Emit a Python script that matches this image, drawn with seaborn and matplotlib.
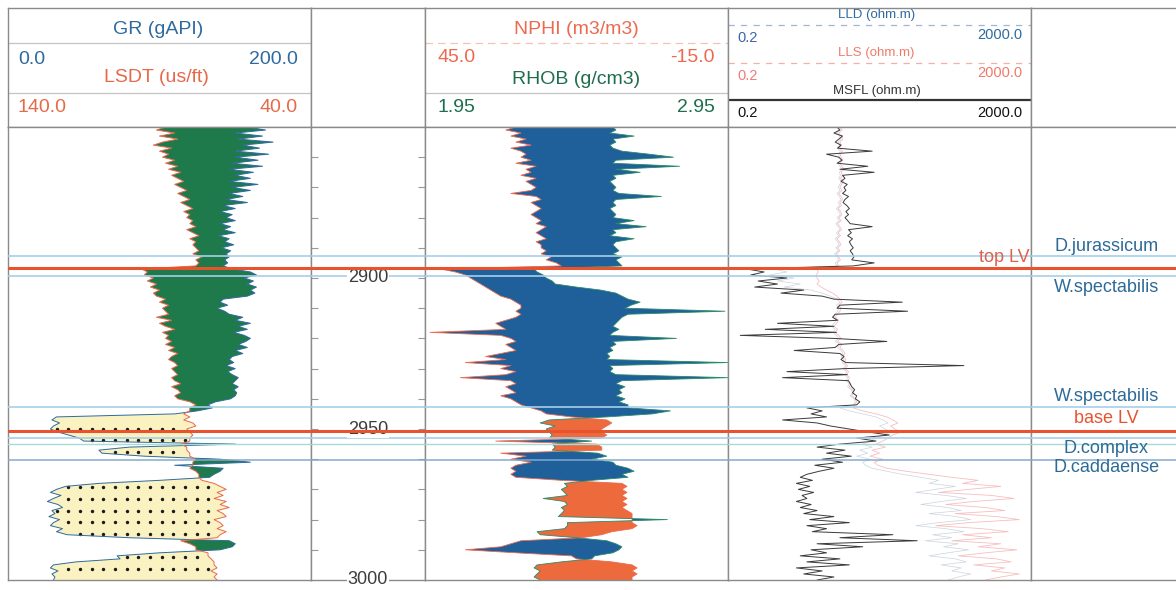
import numpy as np
import matplotlib
matplotlib.use("Agg")
import matplotlib.pyplot as plt
import matplotlib.transforms as mtransforms
import seaborn as sns

TOP_DEPTH, BASE_DEPTH = 2850, 3000

# ---------------- data (1 m samples, 2850 .. 3000 m) ----------------
gr = [
    158, 170, 150, 168, 152, 175, 155, 166, 150, 172,
    150, 165, 148, 168, 146, 162, 150, 160, 146, 165,
    148, 160, 146, 155, 144, 158, 142, 150, 140, 148,
    144, 150, 140, 147, 142, 150, 139, 146, 143, 149,
    141, 147, 144, 146, 143, 145, 142,
    148, 160, 164,
    156, 162, 158, 164, 160, 163, 158,
    142, 140, 145, 138, 143, 146,
    155, 150, 160, 152, 158, 149, 156, 160,
    157, 152, 158, 150, 155, 148,
    146, 149, 144, 150, 145, 148, 152,
    150, 148, 152, 149, 151, 150, 147,
    137, 132,
    135, 125, 110,
    32, 29, 34, 30, 28, 33, 40,
    47, 50,
    150, 80,
    60, 62, 90,
    140, 160, 110,
    142, 140, 136, 133, 100,
    60,
    38, 32, 28, 35, 30, 26, 33, 36, 29, 31, 27, 34, 30, 28, 36, 32, 39,
    80,
    146, 150, 148, 140,
    100, 72, 74, 45,
    30, 28, 33, 29, 31, 30]

lsdt = [
    88, 91, 85, 90, 84, 89, 92, 86, 90, 87,
    89, 85, 88, 84, 87, 83, 86, 84, 82, 85,
    83, 81, 84, 82, 80, 83, 81, 79, 82, 80,
    81, 79, 80, 78, 81, 79, 77, 80, 78, 79,
    78, 77, 79, 76, 78, 77, 78,
    96, 94, 95,
    92, 94, 91, 93, 90, 92, 91,
    88, 90, 87, 89, 88, 87,
    91, 86, 90, 88, 85, 89, 87, 88,
    86, 88, 85, 87, 84, 86,
    87, 85, 84, 86, 85, 84, 86,
    85, 83, 86, 84, 83, 85, 84,
    80, 78,
    80, 80, 82,
    80, 82, 79, 78, 81, 80, 79,
    80, 80,
    83, 81,
    81, 80, 80,
    78, 79, 79,
    80, 78, 77, 77, 76,
    72,
    70, 68, 71, 69, 72, 68, 70, 67, 71, 69, 68, 72, 70, 69, 71, 68, 70,
    71,
    83, 80, 78, 78,
    74, 74, 73, 72,
    72, 71, 73, 71, 72, 71]

nphi = [
    27, 29, 26, 28, 25, 27, 24, 28, 26, 25,
    26, 24, 27, 23, 25, 24, 26, 23, 25, 24,
    23, 24, 28, 23, 22, 24, 23, 22, 23, 24,
    23, 22, 23, 21, 22, 23, 22, 21, 23, 22,
    22, 21, 22, 20, 21, 19, 18,
    42, 39, 37, 36, 35, 34, 33, 32, 31, 30,
    28, 27, 26, 26, 27, 26, 27, 29, 31, 30,
    29, 44, 30, 28, 27, 29, 28, 27, 30, 33,
    29, 37, 28, 30, 27, 29, 38, 28, 27, 29,
    28, 27, 30, 28, 27, 26,
    24, 22, 21, 16, 9, 8, 9, 10, 10, 9,
    10, 31, 11, 10, 10, 30, 25, 28, 24, 27,
    28, 27, 28, 27, 18, 6, 5, 6, 5, 6,
    5, 6, 5, 6, 5, 4, 4, 4, 4, 3,
    4, 8, 10, 14, 26, 28, 30, 37, 27, 16,
    15, 8, 4, 3, 4, 3, 4, 4]

rhob = [
    2.57, 2.58, 2.56, 2.64, 2.57, 2.58, 2.56, 2.57, 2.60, 2.69,
    2.77, 2.58, 2.57, 2.79, 2.58, 2.66, 2.57, 2.58, 2.56, 2.57,
    2.58, 2.57, 2.59, 2.73, 2.58, 2.57, 2.58, 2.56, 2.57, 2.58,
    2.57, 2.64, 2.58, 2.68, 2.57, 2.58, 2.56, 2.64, 2.58, 2.57,
    2.58, 2.59, 2.57, 2.60, 2.58, 2.59, 2.60,
    2.31, 2.32, 2.34, 2.35, 2.37, 2.38, 2.45, 2.53, 2.58, 2.60,
    2.62, 2.66, 2.63, 2.61, 2.94, 2.62, 2.60, 2.59, 2.58, 2.57,
    2.59, 2.57, 2.56, 2.78, 2.57, 2.58, 2.56, 2.57, 2.55, 2.56,
    2.55, 2.95, 2.56, 2.57, 2.56, 2.58, 2.95, 2.60, 2.58, 2.61,
    2.59, 2.60, 2.58, 2.61, 2.59, 2.62,
    2.62, 2.76, 2.70, 2.55, 2.36, 2.33, 2.38, 2.35, 2.36, 2.37,
    2.36, 2.50, 2.37, 2.38, 2.37, 2.52, 2.55, 2.50, 2.57, 2.58,
    2.62, 2.64, 2.60, 2.62, 2.50, 2.41, 2.42, 2.40, 2.41, 2.42,
    2.34, 2.41, 2.42, 2.40, 2.41, 2.40, 2.39, 2.75, 2.42, 2.42,
    2.41, 2.32, 2.33, 2.45, 2.55, 2.58, 2.60, 2.59, 2.57, 2.51,
    2.50, 2.40, 2.32, 2.31, 2.33, 2.32, 2.31, 2.33]

msfl = [
    5.5, 6.0, 5.0, 6.5, 5.8, 5.2, 6.2, 5.6, 16, 4.0,
    5.8, 6.4, 5.5, 14, 6.0, 17, 6.5, 7.0, 6.2, 7.5,
    6.8, 7.2, 6.5, 7.8, 7.0, 6.6, 7.4, 8.0, 7.2, 7.8,
    7.0, 7.6, 8.2, 16, 7.8, 8.5, 7.6, 8.8, 8.0, 8.4,
    9.0, 8.2, 8.8, 9.2, 8.6, 17, 9.0,
    0.35, 0.6, 0.4, 1.2, 0.5, 0.9, 0.45, 2.0, 1.0, 3.5,
    5.0, 40, 6.0, 5.5, 47, 5.2, 4.8, 5.6, 0.9, 5.0,
    0.62, 5.4, 0.29, 5.0, 25, 5.8, 5.2, 1.5, 6.0, 6.8,
    6.2, 7.2, 260, 7.0, 1.2, 7.5, 1.05, 7.8, 8.2, 8.6,
    9.4, 8.8, 10, 9.6, 11, 10,
    2.2, 3.5, 2.5, 4.0, 1.05, 3.0, 4.5, 8.0, 14, 27,
    10, 18, 6.0, 3.0, 7.0, 4.0, 8.5, 3.5, 6.5, 2.8,
    5.0, 3.2, 2.2, 1.8, 2.6, 1.6, 2.4, 1.7, 2.7, 1.9,
    2.2, 1.6, 2.5, 1.8, 3.0, 2.0, 5.0, 2.4, 8.0, 2.2,
    4.0, 2.6, 30, 6.0, 63, 3.0, 12, 2.5, 4.0, 1.8,
    6.0, 2.2, 8.0, 1.6, 3.5, 2.0, 5.0, 3.0]

lls = [
    6.0, 6.4, 5.8, 6.2, 6.6, 6.0, 6.3, 5.9, 6.5, 6.1,
    6.2, 6.6, 6.0, 6.4, 6.8, 6.2, 6.5, 6.1, 6.7, 6.3,
    6.0, 6.4, 5.8, 6.2, 6.5, 6.0, 6.3, 5.7, 6.1, 6.4,
    5.8, 6.2, 5.6, 6.0, 6.3, 5.7, 6.1, 5.5, 5.9, 6.2,
    5.6, 6.0, 5.4, 5.8, 6.1, 5.5, 5.8,
    3.0, 3.1, 2.9, 3.0, 3.2, 3.0, 3.4, 4.0, 4.8, 5.5,
    6.0, 6.4, 5.8, 6.2, 6.0, 5.6, 5.2, 5.8, 5.4, 5.0,
    5.6, 5.2, 5.8, 6.2, 5.6, 6.4, 6.0, 6.6, 7.0, 6.6,
    7.2, 6.8, 7.6, 7.0, 7.8, 7.4, 8.0, 7.6, 8.4, 8.0,
    8.8, 9.2, 8.6, 9.6, 10, 9.4,
    9.0, 12, 18, 25, 30, 35, 28, 32, 38, 30,
    26, 22, 18, 24, 16, 20, 15, 22, 17, 19,
    25, 45, 90, 180, 400, 250, 800, 300, 120, 600,
    1200, 350, 150, 500, 900, 200, 700, 1400, 300, 110,
    450, 1000, 250, 600, 180, 800, 400, 1300, 500, 220,
    700, 1100, 350, 900, 600, 1400, 800, 500]

lld = [
    5.6, 6.0, 5.4, 5.9, 6.2, 5.7, 6.0, 5.5, 6.1, 5.8,
    5.9, 6.2, 5.7, 6.0, 6.4, 5.9, 6.1, 5.8, 6.3, 6.0,
    5.7, 6.0, 5.5, 5.9, 6.2, 5.7, 6.0, 5.4, 5.8, 6.1,
    5.5, 5.9, 5.3, 5.7, 6.0, 5.4, 5.8, 5.2, 5.6, 5.9,
    5.3, 5.7, 5.1, 5.5, 5.8, 5.2, 5.5,
    0.8, 1.2, 0.7, 1.5, 0.9, 1.8, 1.1, 2.5, 3.5, 4.5,
    5.5, 6.0, 5.4, 5.8, 5.6, 5.2, 4.9, 5.4, 5.0, 4.7,
    5.2, 4.9, 5.4, 5.8, 5.2, 6.0, 5.6, 6.2, 6.6, 6.2,
    6.8, 6.4, 7.2, 6.6, 7.4, 7.0, 7.6, 7.2, 8.0, 7.6,
    8.4, 8.8, 8.2, 9.2, 9.6, 9.0,
    6.0, 8.0, 12, 18, 22, 26, 20, 24, 28, 22,
    18, 15, 12, 16, 11, 14, 10, 15, 12, 13,
    16, 25, 40, 70, 120, 90, 200, 110, 60, 150,
    280, 130, 70, 160, 240, 90, 210, 320, 120, 60,
    150, 260, 100, 180, 80, 220, 140, 300, 160, 90,
    200, 280, 130, 240, 180, 320, 220, 160]

# formation markers (depth in m)
marker_depths = [2892.7, 2896.7, 2899.3, 2942.7, 2950.7, 2953.0, 2955.0, 2960.3]
marker_kinds = ["zone", "lv", "zone", "zone", "lv", "zone", "teal", "zone2"]

zone_labels = ["D.jurassicum", "W.spectabilis", "W.spectabilis", "base LV", "D.complex", "D.caddaense"]
zone_label_depths = [2889.7, 2903.0, 2939.4, 2946.4, 2956.6, 2962.9]
top_lv_label, top_lv_depth = "top LV", 2893.2

depth_labels = [2900, 2950, 3000]
minor_depths = list(range(2860, 3000, 10))

# ---------------- styling ----------------
sns.set_theme(style="white")
plt.rcParams['font.family'] = ['Liberation Sans', 'DejaVu Sans']

C_GR = "#2e6a9e"
C_LSDT = "#e8694a"
C_GREEN = "#1e7a4a"
C_SAND = "#fbf2c2"
C_BLUEFILL = "#1f5f9a"
C_ORANGEFILL = "#ec6a3b"
C_RHOB = "#1e6e4e"
C_NPHI = "#ec6a50"
C_ZONE = "#2c6a98"
C_RED = "#e8532e"
C_BORDER = "#8a8a8a"
line_style = {"zone": ("#a6cfe8", 1.2), "lv": (C_RED, 2.2), "teal": ("#a8dad6", 1.0),
              "zone2": ("#84a9d0", 1.1)}

W, H = 1176, 590
fig = plt.figure(figsize=(W / 100, H / 100), dpi=100)
fig.patch.set_facecolor("white")


def px_axes(x0, x1, y0, y1):
    return fig.add_axes([x0 / W, 1 - y1 / H, (x1 - x0) / W, (y1 - y0) / H])


def style(ax, right=True):
    ax.tick_params(which="both", bottom=False, top=False, left=False, right=False,
                   labelbottom=False, labelleft=False)
    for s in ax.spines.values():
        s.set_color(C_BORDER)
        s.set_linewidth(1.0)
    if not right:
        ax.spines["right"].set_visible(False)
    ax.set_facecolor("white")


tx = [8, 311, 425, 728, 1031, 1176]
HY0, HY1 = 8, 127
DY0, DY1 = 127, 580

hdr = [px_axes(tx[i], tx[i + 1], HY0, HY1) for i in range(5)]
dat = [px_axes(tx[i], tx[i + 1], DY0, DY1) for i in range(5)]
for i, a in enumerate(hdr):
    a.set_xlim(0, 1); a.set_ylim(0, 1)
    style(a, right=(i < 4))
for i, a in enumerate(dat):
    style(a, right=(i < 4))

gr_a = np.asarray(gr, float)
depth = np.linspace(TOP_DEPTH, BASE_DEPTH, len(gr_a))
lsdt_eq = (140.0 - np.asarray(lsdt, float)) * 2.0   # LSDT 140..40 mapped onto GR 0..200
nphi_eq = 1.95 + (45.0 - np.asarray(nphi, float)) / 60.0  # NPHI 45..-15 onto RHOB 1.95..2.95
rhob_a = np.asarray(rhob, float)

# ---------------- Track 1: GR / LSDT ----------------
ax = dat[0]
ax.fill_betweenx(depth, lsdt_eq, gr_a, where=gr_a >= lsdt_eq, interpolate=True,
                 color=C_GREEN, lw=0, zorder=1)
ax.fill_betweenx(depth, gr_a, lsdt_eq, where=gr_a < lsdt_eq, interpolate=True,
                 color=C_SAND, lw=0, zorder=1)
# sand dot pattern
rows = np.arange(2949.9, BASE_DEPTH, 3.87)
cols = np.arange(1.3, 200, 7.7)
dx, dy = [], []
for r in rows:
    g = np.interp(r, depth, gr_a)
    s = np.interp(r, depth, lsdt_eq)
    for c in cols:
        if g + 3 < c < s - 3:
            dx.append(c); dy.append(r)
ax.scatter(dx, dy, s=6, color="#1a1a1a", zorder=2, linewidths=0)
sns.lineplot(x=gr_a, y=depth, orient="y", sort=False, estimator=None, ax=ax,
             color=C_GR, lw=0.7, zorder=2.5)
sns.lineplot(x=lsdt_eq, y=depth, orient="y", sort=False, estimator=None, ax=ax,
             color=C_LSDT, lw=0.7, zorder=2.5)
ax.set_xlim(0, 200)

# ---------------- Track 3: NPHI / RHOB ----------------
ax = dat[2]
ax.fill_betweenx(depth, nphi_eq, rhob_a, where=nphi_eq <= rhob_a, interpolate=True,
                 color=C_BLUEFILL, lw=0, zorder=1)
ax.fill_betweenx(depth, rhob_a, nphi_eq, where=rhob_a < nphi_eq, interpolate=True,
                 color=C_ORANGEFILL, lw=0, zorder=1)
sns.lineplot(x=nphi_eq, y=depth, orient="y", sort=False, estimator=None, ax=ax,
             color=C_NPHI, lw=0.6, zorder=2.5)
sns.lineplot(x=rhob_a, y=depth, orient="y", sort=False, estimator=None, ax=ax,
             color="#2a8a6a", lw=0.6, zorder=2.5)
ax.set_xlim(1.95, 2.95)

# ---------------- Track 4: resistivity ----------------
ax = dat[3]
ax.set_xscale("log")
sns.lineplot(x=np.asarray(lls, float), y=depth, orient="y", sort=False, estimator=None,
             ax=ax, color="#f08a8a", lw=0.6, alpha=0.55, zorder=2)
sns.lineplot(x=np.asarray(lld, float), y=depth, orient="y", sort=False, estimator=None,
             ax=ax, color="#7f93aa", lw=0.5, alpha=0.4, zorder=2.2)
sns.lineplot(x=np.asarray(msfl, float), y=depth, orient="y", sort=False, estimator=None,
             ax=ax, color="#3a3a3a", lw=0.7, zorder=2.5)
ax.set_xlim(0.2, 2000)
ax.text(0.995, top_lv_depth, top_lv_label, transform=mtransforms.blended_transform_factory(
    ax.transAxes, ax.transData), ha="right", va="center", fontsize=13, color="#e0604a", zorder=5)

for a in dat:
    a.set_ylim(BASE_DEPTH, TOP_DEPTH)
    a.set(xlabel="", ylabel="")
    style(a, right=(a is not dat[4]))
dat[4].set_xlim(0, 1)
dat[1].set_xlim(0, 1)

# ---------------- depth track ----------------
ax = dat[1]
ax.set_yticks(minor_depths)
ax.tick_params(axis="y", which="major", left=True, right=True, direction="in",
               length=5, width=0.8, color="#999999", labelleft=False)
btf = mtransforms.blended_transform_factory(ax.transAxes, ax.transData)
for d in depth_labels:
    ax.text(0.5, d, str(d), transform=btf, ha="center", va="center", fontsize=13,
            color="#3c3c3c", zorder=4, clip_on=False,
            bbox=dict(facecolor="white", edgecolor="none", pad=0.5))

# ---------------- formation lines ----------------
for a in dat:
    for d, k in zip(marker_depths, marker_kinds):
        c, w = line_style[k]
        a.axhline(d, color=c, lw=w, zorder=6 if k == "lv" else 3)

# ---------------- Track 5: zone labels ----------------
ax = dat[4]
for lab, d in zip(zone_labels, zone_label_depths):
    ax.text(0.52, d, lab, ha="center", va="center", fontsize=13,
            color=(C_RED if "LV" in lab else C_ZONE), zorder=7)


# ---------------- headers ----------------
def fy(y):
    return (HY1 - y) / (HY1 - HY0)


a = hdr[0]
a.text(0.495, fy(30), "GR (gAPI)", ha="center", va="center", fontsize=14, color=C_GR)
a.axhline(fy(43), color="#c4c4c4", lw=0.9)
a.text(0.033, fy(60), "0.0", ha="left", va="center", fontsize=14, color=C_GR)
a.text(0.957, fy(60), "200.0", ha="right", va="center", fontsize=14, color=C_GR)
a.text(0.49, fy(78), "LSDT (us/ft)", ha="center", va="center", fontsize=14, color=C_LSDT)
a.axhline(fy(93), color="#c4c4c4", lw=0.9)
a.text(0.033, fy(108), "140.0", ha="left", va="center", fontsize=14, color=C_LSDT)
a.text(0.957, fy(108), "40.0", ha="right", va="center", fontsize=14, color=C_LSDT)

a = hdr[2]
a.text(0.498, fy(30), "NPHI (m3/m3)", ha="center", va="center", fontsize=14, color=C_NPHI)
a.axhline(fy(43), color="#f3c4b6", lw=0.9, ls=(0, (6, 4)))
a.text(0.04, fy(58), "45.0", ha="left", va="center", fontsize=14, color=C_NPHI)
a.text(0.957, fy(58), "-15.0", ha="right", va="center", fontsize=14, color=C_NPHI)
a.text(0.50, fy(79), "RHOB (g/cm3)", ha="center", va="center", fontsize=14, color=C_RHOB)
a.axhline(fy(93), color="#c4c4c4", lw=0.9)
a.text(0.04, fy(107), "1.95", ha="left", va="center", fontsize=14, color=C_RHOB)
a.text(0.957, fy(107), "2.95", ha="right", va="center", fontsize=14, color=C_RHOB)

a = hdr[3]
a.text(0.49, fy(15), "LLD (ohm.m)", ha="center", va="center", fontsize=9.5, color=C_GR)
a.axhline(fy(25), color="#9fb5d2", lw=0.9, ls=(0, (5, 5)))
a.text(0.03, fy(38), "0.2", ha="left", va="center", fontsize=10.5, color="#3a66a8")
a.text(0.97, fy(35), "2000.0", ha="right", va="center", fontsize=10.5, color=C_GR)
a.text(0.49, fy(53), "LLS (ohm.m)", ha="center", va="center", fontsize=9.5, color="#f07a6a")
a.axhline(fy(63), color="#f4b0a4", lw=0.9, ls=(0, (5, 5)))
a.text(0.03, fy(76), "0.2", ha="left", va="center", fontsize=10.5, color="#f07a7a")
a.text(0.97, fy(73), "2000.0", ha="right", va="center", fontsize=10.5, color="#f07a6a")
a.text(0.49, fy(91), "MSFL (ohm.m)", ha="center", va="center", fontsize=9.5, color="#333333")
a.axhline(fy(100), color="#333333", lw=1.6)
a.text(0.03, fy(113), "0.2", ha="left", va="center", fontsize=10.5, color="#111111")
a.text(0.97, fy(113), "2000.0", ha="right", va="center", fontsize=10.5, color="#111111")

fig.savefig("out.png", dpi=100, facecolor="white")
